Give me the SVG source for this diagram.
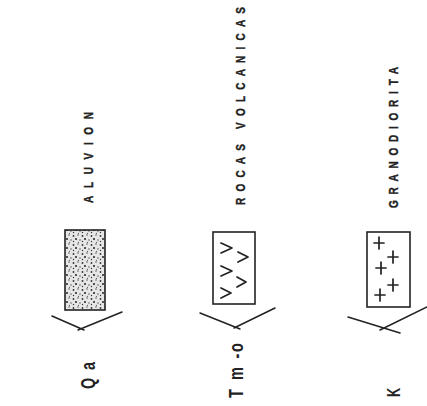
<svg xmlns="http://www.w3.org/2000/svg" width="427" height="406" viewBox="0 0 427 406">
  <defs>
    <pattern id="stipple" width="9" height="9" patternUnits="userSpaceOnUse">
      <rect width="9" height="9" fill="#e6e6e6"/>
      <circle cx="1.5" cy="2" r="0.9" fill="#333"/>
      <circle cx="6" cy="1" r="0.7" fill="#444"/>
      <circle cx="4" cy="5" r="1" fill="#222"/>
      <circle cx="8" cy="6" r="0.7" fill="#444"/>
      <circle cx="1.5" cy="7.5" r="0.7" fill="#333"/>
      <circle cx="6.5" cy="8.3" r="0.6" fill="#555"/>
    </pattern>
  </defs>
  <style>
    .box { fill: #fff; stroke: #222; stroke-width: 1.6; }
    .sym { fill: none; stroke: #222; stroke-width: 1.7; stroke-linecap: round; stroke-linejoin: round; }
    .conn { fill: none; stroke: #222; stroke-width: 1.5; stroke-linecap: round; }
    .name { font-family: "Liberation Sans", Arial, sans-serif; font-weight: bold; font-size: 10px; fill: #222; stroke: #222; stroke-width: 0.3; }
    .code { font-family: "Liberation Sans", Arial, sans-serif; font-weight: bold; font-size: 16px; fill: #222; }
  </style>
  <rect width="427" height="406" fill="#fff"/>

  <g id="aluvion">
    <text class="name" transform="translate(93,203) rotate(-90) scale(1,1.3)" textLength="91" lengthAdjust="spacing">ALUVION</text>
    <rect x="65" y="230" width="40" height="80" fill="url(#stipple)" stroke="#222" stroke-width="1.6"/>
    <text class="code" transform="translate(95,389) rotate(-90) scale(0.9,1.3)"><tspan x="0">Q</tspan><tspan x="21">a</tspan></text>
  </g>

  <g id="rocas-volcanicas">
    <text class="name" transform="translate(245,205) rotate(-90) scale(1,1.3)" textLength="198" lengthAdjust="spacing">ROCAS VOLCANICAS</text>
    <rect class="box" x="213" y="232" width="42" height="72"/>
    <path class="sym" d="M221,243 L232,248 L221,253 M238,252 L248,257 L238,262 M221,266 L232,271 L221,276 M237,277 L246,282 L237,287 M221,288 L231,293 L221,298"/>
    <text class="code" transform="translate(243,398) rotate(-90) scale(0.9,1.3)"><tspan x="0">T</tspan><tspan x="20">m</tspan><tspan x="44">-</tspan><tspan x="51">o</tspan></text>
  </g>

  <g id="granodiorita">
    <text class="name" transform="translate(398,208) rotate(-90) scale(1,1.3)" textLength="141" lengthAdjust="spacing">GRANODIORITA</text>
    <rect class="box" x="367" y="232" width="43" height="75"/>
    <path class="sym" d="M374,243 L384,243 M379,237 L379,249 M388,257 L398,257 M393,251 L393,263 M376,268 L386,268 M381,262 L381,274 M388,285 L398,285 M393,279 L393,291 M375,295 L385,295 M380,289 L380,301"/>
    <text class="code" transform="translate(400,397) rotate(-90) scale(0.8,1.2)">K</text>
  </g>

  <g id="connectors">
    <path class="conn" d="M52,316 L84,330 M78,330 L122,312"/>
    <path class="conn" d="M200,313 L240,329 M234,328 L275,308"/>
    <path class="conn" d="M348,317 L400,333 M380,330 L427,307"/>
  </g>
</svg>
